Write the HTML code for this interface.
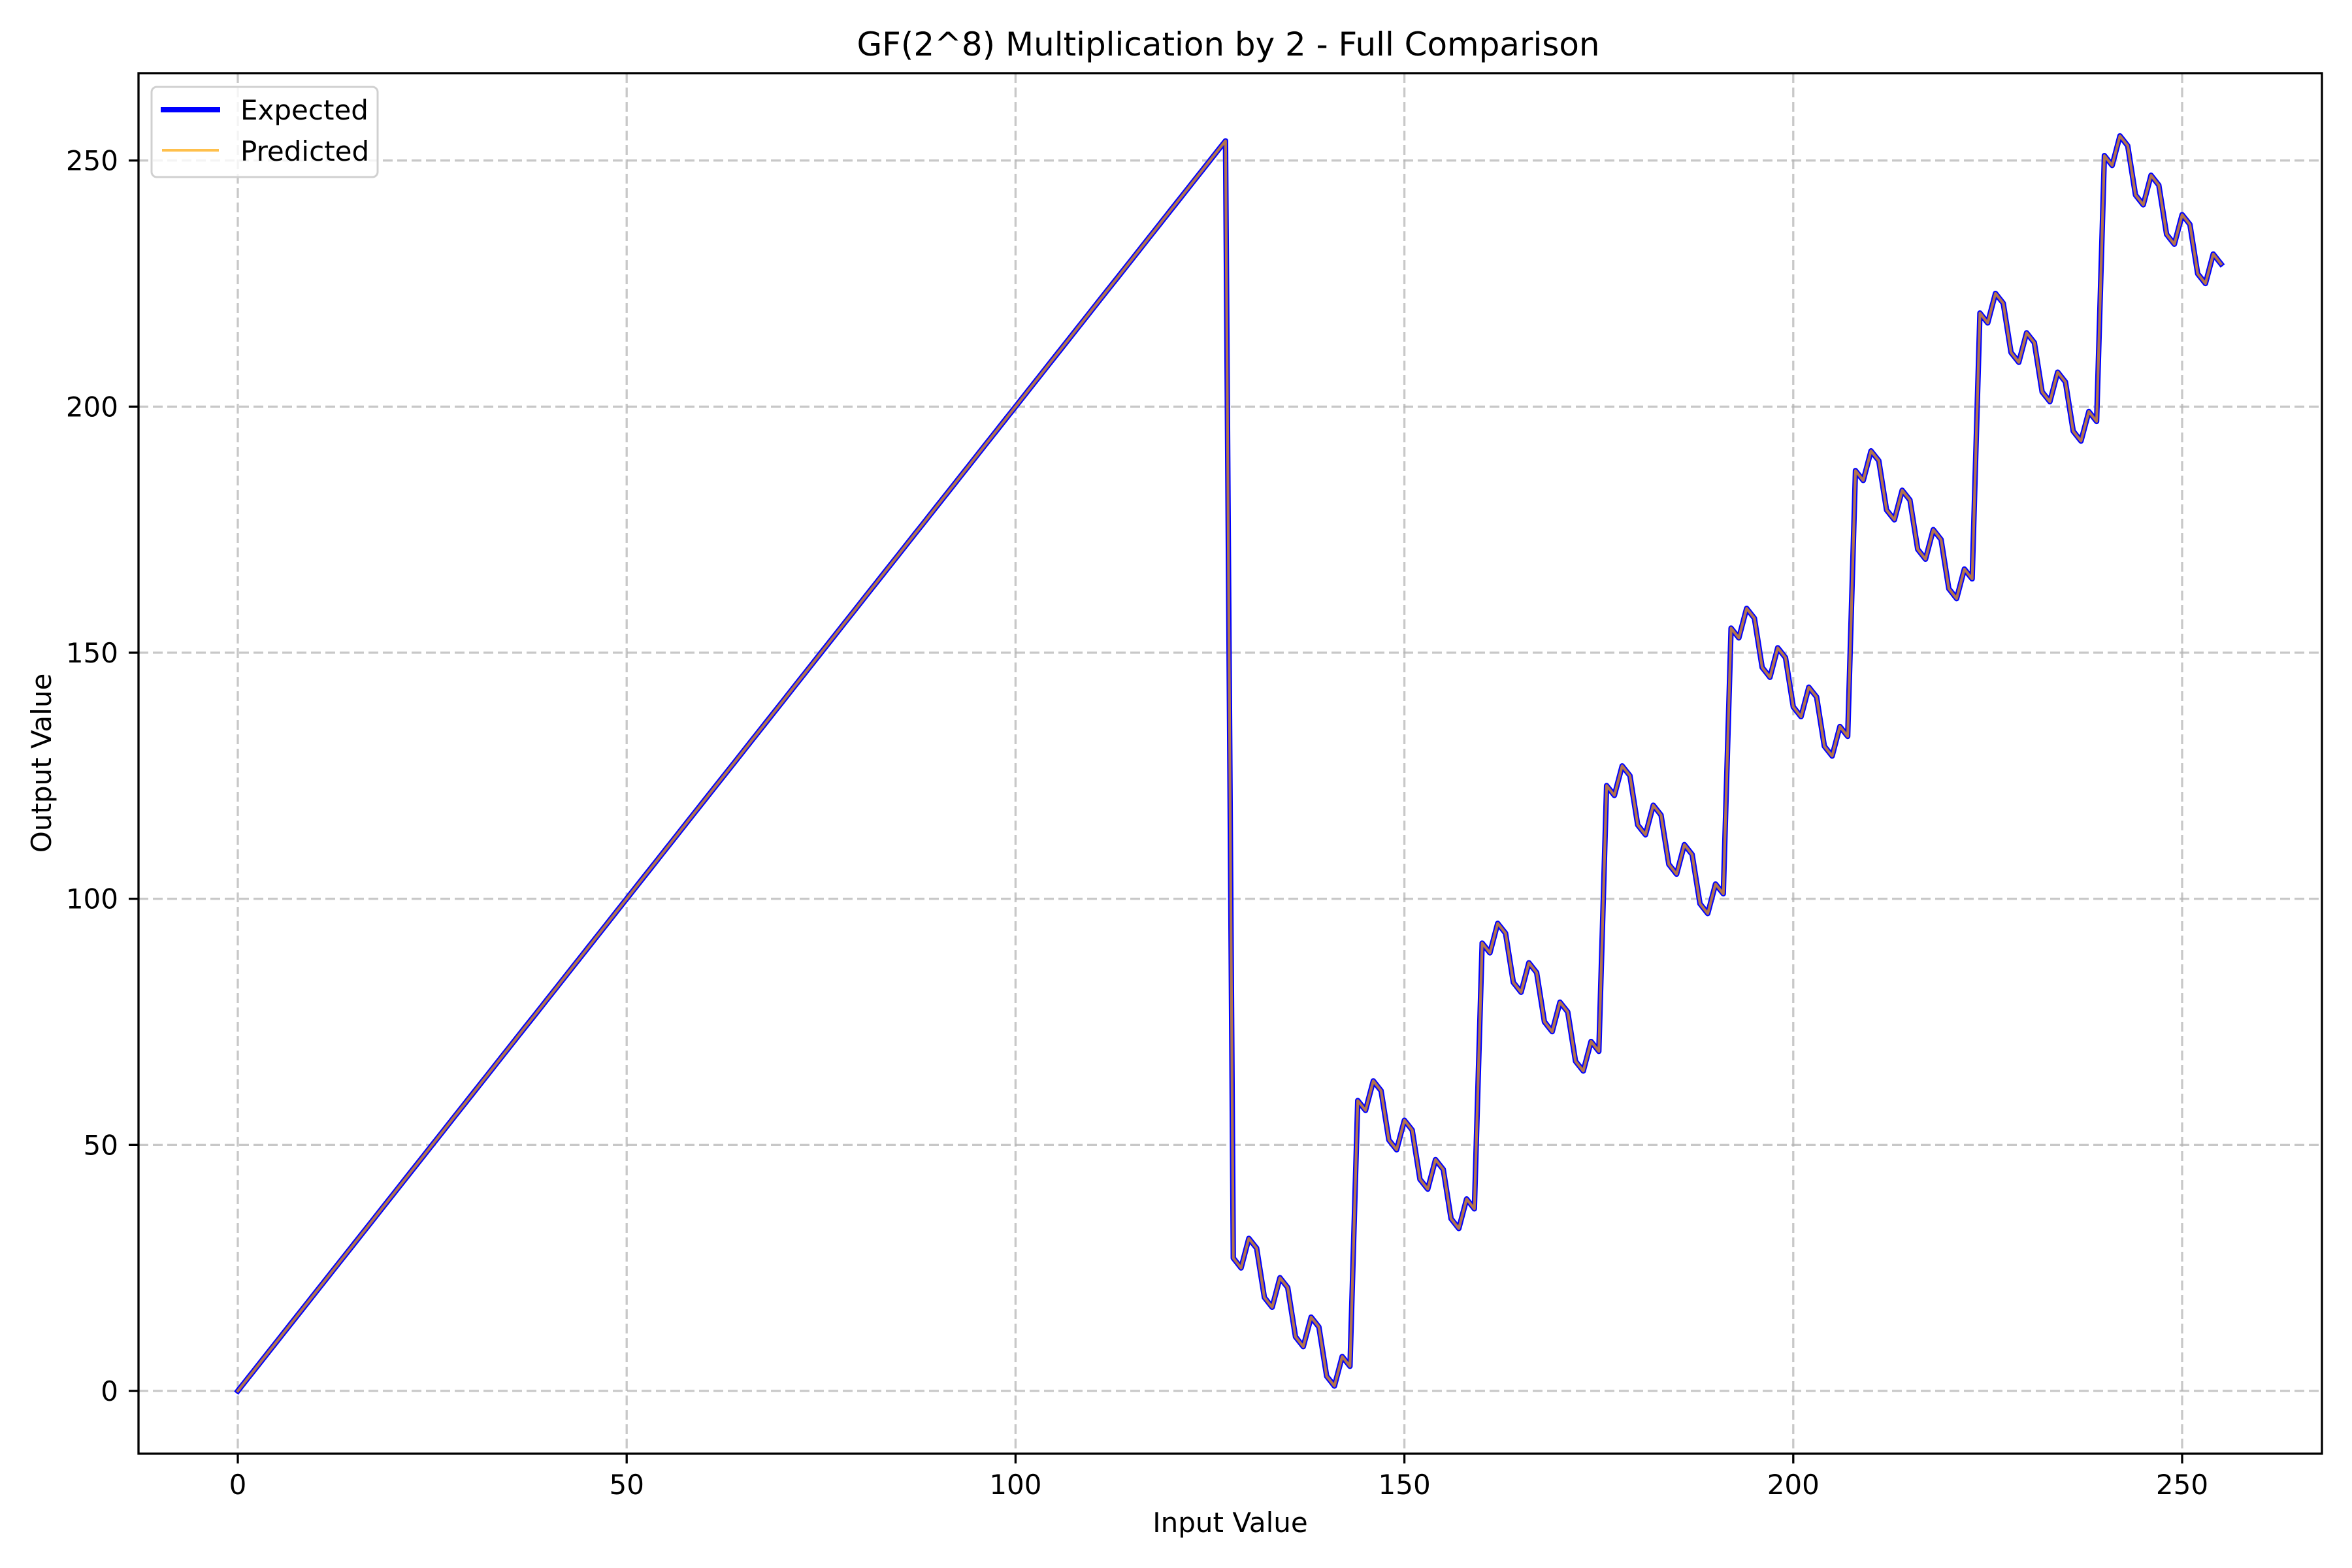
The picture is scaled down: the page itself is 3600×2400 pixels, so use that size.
<!DOCTYPE html>
<html><head><meta charset="utf-8"><style>
html,body{margin:0;padding:0;background:#fff}
svg{display:block;font-family:"DejaVu Sans","Liberation Sans",sans-serif}
</style></head><body>
<svg id="chart" width="3600" height="2400" viewBox="0 0 3600 2400" xmlns="http://www.w3.org/2000/svg">
<rect width="3600" height="2400" fill="#fff"/>
<text x="1880" y="85" font-size="50" text-anchor="middle" textLength="1137" lengthAdjust="spacingAndGlyphs">GF(2^8) Multiplication by 2 - Full Comparison</text>
<g id="grid"></g>
<g id="series"></g>
<g id="axes"></g>
<text x="1883" y="2345" font-size="42" text-anchor="middle">Input Value</text>
<text transform="translate(78,1168) rotate(-90)" font-size="42" text-anchor="middle">Output Value</text>
<g>
<rect x="232" y="133" width="346" height="138" rx="8" fill="#fff" fill-opacity="0.8" stroke="#d0d0d0" stroke-width="3"/>
<line x1="246" y1="168" x2="337" y2="168" stroke="#0000ff" stroke-width="8"/>
<text x="368" y="183" font-size="42">Expected</text>
<line x1="248" y1="230" x2="335" y2="230" stroke="#ffa500" stroke-opacity="0.7" stroke-width="4"/>
<text x="368" y="246" font-size="42">Predicted</text>
</g>
</svg>
<script>
const inputs = [];
for (let i = 0; i < 256; i++) inputs.push(i);
const expected = [0,2,4,6,8,10,12,14,16,18,20,22,24,26,28,30,32,34,36,38,40,42,44,46,48,50,52,54,56,58,60,62,
64,66,68,70,72,74,76,78,80,82,84,86,88,90,92,94,96,98,100,102,104,106,108,110,112,114,116,118,120,122,124,126,
128,130,132,134,136,138,140,142,144,146,148,150,152,154,156,158,160,162,164,166,168,170,172,174,176,178,180,182,184,186,188,190,
192,194,196,198,200,202,204,206,208,210,212,214,216,218,220,222,224,226,228,230,232,234,236,238,240,242,244,246,248,250,252,254,
27,25,31,29,19,17,23,21,11,9,15,13,3,1,7,5,59,57,63,61,51,49,55,53,43,41,47,45,35,33,39,37,
91,89,95,93,83,81,87,85,75,73,79,77,67,65,71,69,123,121,127,125,115,113,119,117,107,105,111,109,99,97,103,101,
155,153,159,157,147,145,151,149,139,137,143,141,131,129,135,133,187,185,191,189,179,177,183,181,171,169,175,173,163,161,167,165,
219,217,223,221,211,209,215,213,203,201,207,205,195,193,199,197,251,249,255,253,243,241,247,245,235,233,239,237,227,225,231,229];
const predicted = expected.slice();
const xTicks = [0,50,100,150,200,250];
const yTicks = [0,50,100,150,200,250];

const L=212,R=3554,T=112,B=2225;
const sx = v => 364 + v*(3340-364)/250;
const sy = v => 2129 - v*(2129-245.7)/250;
const NS="http://www.w3.org/2000/svg";
function mk(tag, attrs, parent){const e=document.createElementNS(NS,tag);for(const k in attrs)e.setAttribute(k,attrs[k]);parent.appendChild(e);return e;}
const grid=document.getElementById('grid'), axes=document.getElementById('axes'), series=document.getElementById('series');
xTicks.forEach(t=>{
  const g=mk('line',{x1:sx(t),x2:sx(t),y1:T,y2:B,stroke:'#b0b0b0','stroke-opacity':0.7,'stroke-width':3.3,'stroke-dasharray':'15 7'},grid);
  
  
  const tk=mk('line',{x1:sx(t),x2:sx(t),y1:B,y2:B+15,stroke:'#000','stroke-width':3.3},axes);
  
  
  const tx=mk('text',{x:sx(t),y:2287,'font-size':42,'text-anchor':'middle'},axes);
  tx.textContent=t;
  
  
});
yTicks.forEach(t=>{
  const g=mk('line',{x1:L,x2:R,y1:sy(t),y2:sy(t),stroke:'#b0b0b0','stroke-opacity':0.7,'stroke-width':3.3,'stroke-dasharray':'15 7'},grid);
  
  
  const tk=mk('line',{x1:L-15,x2:L,y1:sy(t),y2:sy(t),stroke:'#000','stroke-width':3.3},axes);
  
  
  const tx=mk('text',{x:181,y:sy(t)+15,'font-size':42,'text-anchor':'end'},axes);
  tx.textContent=t;
  
  
});
const frame=mk('rect',{x:L,y:T,width:R-L,height:B-T,fill:'none',stroke:'#000','stroke-width':3.3},axes);


const ptsE=inputs.map((x,i)=>sx(x).toFixed(1)+','+sy(expected[i]).toFixed(1)).join(' ');
const ptsP=inputs.map((x,i)=>sx(x).toFixed(1)+','+sy(predicted[i]).toFixed(1)).join(' ');
const le=mk('polyline',{points:ptsE,fill:'none',stroke:'#0000ff','stroke-width':8.3,'stroke-linejoin':'round','stroke-linecap':'square'},series);


const lp=mk('polyline',{points:ptsP,fill:'none',stroke:'#ffa500','stroke-opacity':0.7,'stroke-width':4.2,'stroke-linejoin':'round','stroke-linecap':'square'},series);


</script>
</body></html>
